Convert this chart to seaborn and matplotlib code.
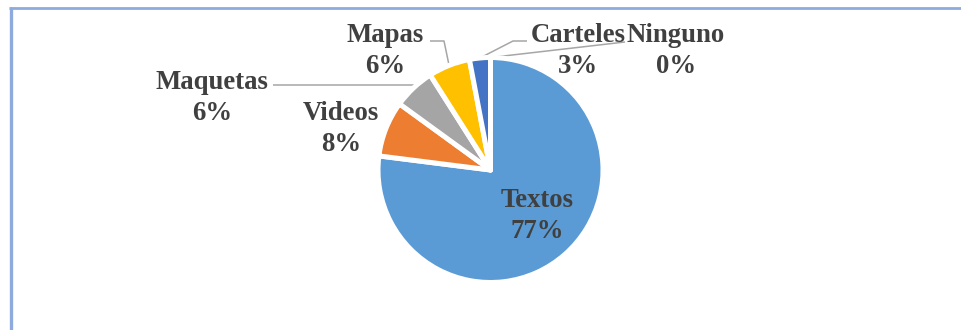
import numpy as np
import matplotlib
matplotlib.use("Agg")
import matplotlib.pyplot as plt
from matplotlib.lines import Line2D
import seaborn as sns

sns.set_theme(style="white")
plt.rcParams["font.family"] = ["Liberation Serif", "DejaVu Serif"]

# Recursos usados (porcentaje)
categories = ["Textos", "Videos", "Maquetas", "Mapas", "Carteles", "Ninguno"]
values = [77, 8, 6, 6, 3, 0]
colors = ["#5B9BD5", "#ED7D31", "#A5A5A5", "#FFC000", "#4472C4", "#70AD47"]

W, H = 961, 330
CX, CY, R = 490.5, 170.0, 112.5   # pie centre and radius in pixels

# label block centres (pixels from top-left)
label_pos = {
    "Textos": (537, 216),
    "Videos": (341, 129),
    "Maquetas": (212, 98),
    "Mapas": (385, 51),
    "Carteles": (578, 51),
    "Ninguno": (676, 51),
}
# leader paths: label end, optional elbow (pixels); "h" = run flat to the rim
leaders = {
    "Maquetas": ([(273, 85)], "h"),
    "Mapas": ([(430, 41), (444, 41)], "mid"),
    "Carteles": ([(527, 41), (513, 41)], "mid"),
    "Ninguno": ([(625, 42)], "mid"),
}

fig = plt.figure(figsize=(W / 100, H / 100), dpi=100)
ax = fig.add_axes([0, 0, 1, 1])

wedges, _ = ax.pie(
    values,
    colors=colors,
    startangle=90,
    counterclock=False,
    radius=1.0,
    wedgeprops=dict(edgecolor="white", linewidth=3.6, joinstyle="round"),
)
ax.set_xlim(-CX / R, (W - CX) / R)
ax.set_ylim(-(H - CY) / R, CY / R)
ax.set_aspect("auto")
ax.axis("off")


def px_to_data(x, y):
    return (x - CX) / R, (CY - y) / R


text_kw = dict(ha="center", va="center", fontsize=19.3, fontweight="bold",
               color="#404040", linespacing=1.27)
for cat, val, w in zip(categories, values, wedges):
    lx, ly = px_to_data(*label_pos[cat])
    ax.text(lx, ly, f"{cat}\n{val}%", **text_kw)
    if cat in leaders:
        path, mode = leaders[cat]
        pts = [px_to_data(*p) for p in path]
        if mode == "h":
            y0 = pts[-1][1]
            tip = (-np.sqrt(1 - y0 ** 2), y0)
        else:
            mid = np.deg2rad((w.theta1 + w.theta2) / 2)
            tip = (np.cos(mid), np.sin(mid))
        xs, ys = zip(*(pts + [tip]))
        ax.plot(xs, ys, color="#A6A6A6", lw=1.1, solid_capstyle="butt", zorder=0)

# chart frame edges
frame_col = "#8FAADC"
fig.add_artist(Line2D([10.5 / W, 10.5 / W], [0, 1 - 7 / H], color=frame_col,
                      lw=2.4, solid_capstyle="butt", transform=fig.transFigure))
fig.add_artist(Line2D([9 / W, 1], [1 - 8 / H, 1 - 8 / H], color=frame_col,
                      lw=2.0, solid_capstyle="butt", transform=fig.transFigure))

fig.savefig("out.png", dpi=100, facecolor="white")
